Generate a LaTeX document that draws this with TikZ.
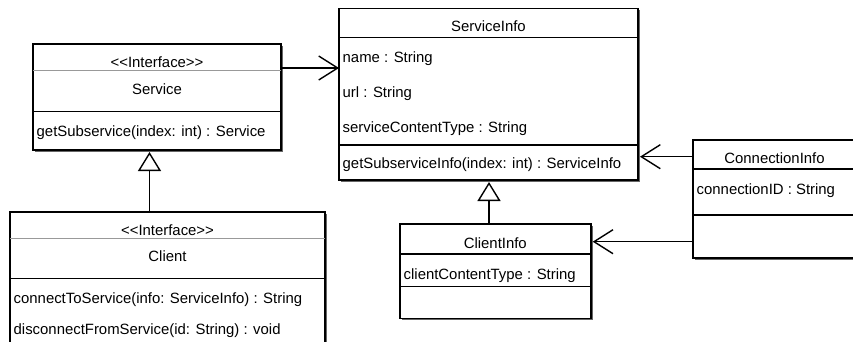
\documentclass[tikz,border=0pt]{standalone}
\usepackage{fontspec}
\setmainfont{Liberation Sans}
\usetikzlibrary{arrows.meta,shadows}
\newcommand\umlfs{\fontsize{14.9}{17}\selectfont}
\tikzset{
  umlbox/.style={draw=black, line width=1.6pt, fill=white, anchor=north west,
    inner sep=0pt, outer sep=0pt,
    drop shadow={shadow xshift=2pt, shadow yshift=-2pt, fill=black!60, opacity=1}},
  sepline/.style={line width=1.4pt},
  graysep/.style={line width=0.8pt, draw=black!40},
  lbl/.style={font=\umlfs, inner sep=0pt, anchor=base},
  lblw/.style={font=\umlfs, inner sep=0pt, anchor=base west},
  assoc/.style={line width=1.4pt, -{Straight Barb[length=19pt,width=24pt,line width=1.4pt]}},
  gen/.style={line width=1.4pt, -{Triangle[open,length=19pt,width=23pt,line width=1.4pt]}},
}
\begin{document}
\begin{tikzpicture}[x=1pt,y=-1pt]
\useasboundingbox (0,0) rectangle (853,341);
\clip (0,0) rectangle (853,341);

% Service
\node[umlbox, minimum width=248pt, minimum height=106pt] (service) at (33,44) {};
\draw[graysep] (service.west |- 0,70.7) -- (service.east |- 0,70.7);
\draw[sepline] (service.west |- 0,111.7) -- (service.east |- 0,111.7);
\node[lbl] (svcst) at (157,67.3) {<\kern0pt<Interface>\kern0pt>};
\node[lbl] (svcname) at (157,94.3) {Service};
\node[lblw] (svcm1) at (36.5,136.5) {getSubservice(index: int) : Service};

% Client
\node[umlbox, minimum width=315pt, minimum height=200pt] (client) at (10,211.7) {};
\draw[graysep] (client.west |- 0,238.3) -- (client.east |- 0,238.3);
\draw[sepline] (client.west |- 0,278.5) -- (client.east |- 0,278.5);
\node[lbl] (clst) at (167.5,235) {<\kern0pt<Interface>\kern0pt>};
\node[lbl] (clname) at (167.5,261.7) {Client};
\node[lblw] (clm1) at (13.5,303) {connectToService(info: ServiceInfo) : String};
\node[lblw] (clm2) at (13.5,334.5) {disconnectFromService(id: String) : void};

% ServiceInfo
\node[umlbox, minimum width=299pt, minimum height=171.7pt] (sinfo) at (339,8.3) {};
\draw[sepline] (sinfo.west |- 0,37.7) -- (sinfo.east |- 0,37.7);
\draw[sepline] (sinfo.west |- 0,145) -- (sinfo.east |- 0,145);
\node[lbl] (siname) at (488.5,31.5) {ServiceInfo};
\node[lblw] (sia1) at (342.5,62.8) {name : String};
\node[lblw] (sia2) at (342.5,97.5) {url : String};
\node[lblw] (sia3) at (342.5,132) {serviceContentType : String};
\node[lblw] (sim1) at (342.5,168.5) {getSubserviceInfo(index: int) : ServiceInfo};

% ConnectionInfo
\node[umlbox, minimum width=163pt, minimum height=117.7pt] (coninfo) at (693,140) {};
\draw[sepline] (coninfo.west |- 0,169) -- (coninfo.east |- 0,169);
\draw[sepline] (coninfo.west |- 0,215) -- (coninfo.east |- 0,215);
\node[lbl] (ciname) at (774.5,163) {ConnectionInfo};
\node[lblw] (cia1) at (696.5,194) {connectionID : String};

% ClientInfo
\node[umlbox, minimum width=190.7pt, minimum height=94.3pt] (clinfo) at (400,224) {};
\draw[sepline] (clinfo.west |- 0,254) -- (clinfo.east |- 0,254);
\draw[sepline] (clinfo.west |- 0,286.7) -- (clinfo.east |- 0,286.7);
\node[lbl] (cliname) at (495.3,248) {ClientInfo};
\node[lblw] (clia1) at (403.5,279) {clientContentType : String};

% connectors
\draw[assoc] (service.east |- 0,68) -- (sinfo.west |- 0,68);
\draw[gen] (client.north -| 149.5,0) -- ([yshift=-2pt]service.south -| 149.5,0);
\draw[gen] (clinfo.north -| 489,0) -- ([yshift=-2pt]sinfo.south -| 489,0);
\draw[assoc] (coninfo.west |- 0,156.7) -- ([xshift=2pt]sinfo.east |- 0,156.7);
\draw[assoc] (coninfo.west |- 0,241.7) -- ([xshift=2pt]clinfo.east |- 0,241.7);
\end{tikzpicture}
\end{document}
